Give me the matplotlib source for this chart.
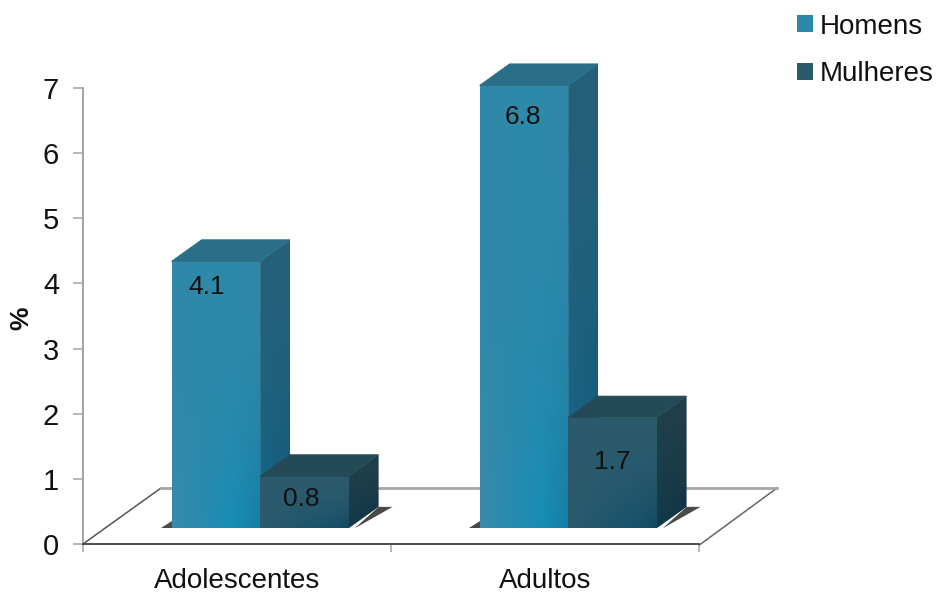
import numpy as np
import matplotlib
matplotlib.use("Agg")
import matplotlib.pyplot as plt
from matplotlib.colors import to_rgb
from matplotlib.patches import Patch, Polygon

plt.rcParams["font.family"] = ["Liberation Sans", "DejaVu Sans"]

categories = ["Adolescentes", "Adultos"]
homens = [4.1, 6.8]
mulheres = [0.8, 1.7]
y_ticks = [0, 1, 2, 3, 4, 5, 6, 7]
series_names = ["Homens", "Mulheres"]

W, H = 936, 593
AX_L, AX_R, AX_T, AX_B = 83, 699, 88, 544
PX_X = (AX_R - AX_L) / 2
PX_Y = (AX_B - AX_T) / 7

BAR_W = 88.5 / PX_X
BAR_SHIFT = 0.075          # the bars stand partway back on the floor
BAR_BASE = 0.24
DEPTH_X, DEPTH_Y = 30 / PX_X, 21.5 / PX_Y
FLOOR_DX, FLOOR_DY = 78 / PX_X, 56 / PX_Y
TEXT_COLOR = "#111111"

# face colours: (top row, bottom row), each sampled at left / 70% / right
STYLE = {
    "Homens": dict(
        front=(("#2f88a8", "#2f88a8", "#2f88a8"), ("#3a8aa9", "#168db6", "#167ea4")),
        side=(("#26607a", "#26607a"), ("#11668a", "#0f5a7c")),
        top="#2a6e89",
    ),
    "Mulheres": dict(
        front=(("#2c5b6d", "#2c5b6d", "#2c5b6d"), ("#2c5a6c", "#17536b", "#134a62")),
        side=(("#213f4b", "#213f4b"), ("#123a4b", "#0e3140")),
        top="#254a57",
    ),
}

fig = plt.figure(figsize=(W / 100, H / 100), dpi=100, facecolor="white")
ax = fig.add_axes([AX_L / W, 1 - AX_B / H, (AX_R - AX_L) / W, (AX_B - AX_T) / H])


def shaded(rows, stops, power=2.0, n=120):
    """Build an RGB array blending a top row of colours into a bottom row."""
    xs = np.linspace(0, 1, n)
    img = np.zeros((n, n, 3))
    top = np.array([to_rgb(c) for c in rows[0]])
    bottom = np.array([to_rgb(c) for c in rows[1]])
    for ch in range(3):
        upper = np.interp(xs, stops, top[:, ch])
        lower = np.interp(xs, stops, bottom[:, ch])
        for i, t in enumerate(xs):
            img[i, :, ch] = upper + (lower - upper) * t ** power
    return img


def shaded_face(verts, rows, stops, power, zorder):
    """Paint a gradient inside a polygonal face of a bar."""
    poly = Polygon(verts, closed=True, facecolor="none", edgecolor="none",
                   transform=ax.transData)
    ax.add_patch(poly)
    poly.set_clip_on(False)
    xs, ys = zip(*verts)
    im = ax.imshow(shaded(rows, stops, power), origin="upper", aspect="auto",
                   extent=(min(xs), max(xs), min(ys), max(ys)),
                   interpolation="bilinear", zorder=zorder)
    im.set_clip_box(fig.bbox)
    im.set_clip_path(poly)


def bar3d(x0, value, style, zorder):
    x1 = x0 + BAR_W
    y0, y1 = BAR_BASE, BAR_BASE + value
    # contact shadows on the floor
    ax.add_patch(Polygon([(x1 + DEPTH_X, y0 + DEPTH_Y),
                          (x1 + DEPTH_X + 14 / PX_X, y0 + DEPTH_Y),
                          (x1 + 6 / PX_X, y0)],
                         facecolor="#4a4a4a", edgecolor="none", clip_on=False, zorder=zorder - 0.5))
    ax.add_patch(Polygon([(x0 - 11 / PX_X, y0), (x0, y0), (x0, y0 + 7 / PX_Y)],
                         facecolor="#4a4a4a", edgecolor="none", clip_on=False, zorder=zorder - 0.5))
    shaded_face([(x1, y0), (x1 + DEPTH_X, y0 + DEPTH_Y),
                 (x1 + DEPTH_X, y1 + DEPTH_Y), (x1, y1)],
                style["side"], [0, 1], 1.6, zorder)
    shaded_face([(x0, y0), (x1, y0), (x1, y1), (x0, y1)],
                style["front"], [0, 0.7, 1], 2.0, zorder + 0.1)
    ax.add_patch(Polygon([(x0, y1), (x1, y1), (x1 + DEPTH_X, y1 + DEPTH_Y),
                          (x0 + DEPTH_X, y1 + DEPTH_Y)],
                         facecolor=style["top"], edgecolor=style["top"], lw=0.6,
                         clip_on=False, zorder=zorder + 0.2))


# floor of the 3D scene
ax.plot([0, FLOOR_DX], [0, FLOOR_DY], color="#555555", lw=1.1, clip_on=False, zorder=1)
ax.plot([2, 2 + FLOOR_DX], [-0.02, FLOOR_DY], color="#666666", lw=1.1, clip_on=False, zorder=1)
ax.plot([FLOOR_DX, 2 + FLOOR_DX], [FLOOR_DY, FLOOR_DY], color="#a6a6a6", lw=2.0, clip_on=False, zorder=1)

label_nudge_x = [-9, -3, -1, 0]
label_drop = [26, 23, 32, 44]

centres = np.arange(len(categories)) + 0.5
for i, c in enumerate(centres):
    for j, (name, vals) in enumerate(zip(series_names, (homens, mulheres))):
        x0 = c + BAR_SHIFT - BAR_W + j * BAR_W
        z = 3 + i * 2 + j * 0.5
        bar3d(x0, vals[i], STYLE[name], z)
        ax.text(x0 + BAR_W / 2 + label_nudge_x[i * 2 + j] / PX_X,
                BAR_BASE + vals[i] - label_drop[i * 2 + j] / PX_Y,
                f"{vals[i]}", ha="center", va="center", fontsize=19,
                color=TEXT_COLOR, zorder=10)

ax.set_xlim(0, 2)
ax.set_ylim(0, 7)
ax.patch.set_alpha(0)

for side in ("top", "right"):
    ax.spines[side].set_visible(False)
ax.spines["left"].set_color("#a3a3a3")
ax.spines["left"].set_linewidth(1.4)
ax.spines["bottom"].set_color("#3f3f3f")
ax.spines["bottom"].set_linewidth(1.3)

ax.set_yticks(y_ticks)
ax.set_yticklabels([str(t) for t in y_ticks], fontsize=21, color=TEXT_COLOR)
ax.tick_params(axis="y", length=7.2, width=1.1, color="#a3a3a3", pad=10)
ax.set_xticks(centres)
ax.set_xticklabels(categories, fontsize=20, color=TEXT_COLOR)
ax.tick_params(axis="x", which="major", length=0, pad=17.5)
ax.set_xticks([0, 1, 2], minor=True)
ax.tick_params(axis="x", which="minor", length=6, width=1.1, color="#a3a3a3")

ax.set_ylabel("%", fontsize=19, fontweight="bold", color=TEXT_COLOR)
ax.yaxis.set_label_coords((33 - AX_L) / (AX_R - AX_L), 0.495)

handles = [Patch(facecolor="#2b88a8", edgecolor="none"),
           Patch(facecolor="#2a5a6c", edgecolor="none")]
fig.legend(handles, series_names, loc="upper left",
           bbox_to_anchor=(791 / W, 1 - 8 / H), frameon=False, fontsize=20,
           handlelength=0.58, handleheight=0.58, handletextpad=0.25,
           labelspacing=0.78, borderpad=0.2, borderaxespad=0,
           labelcolor=TEXT_COLOR)

fig.savefig("out.png", dpi=100)
